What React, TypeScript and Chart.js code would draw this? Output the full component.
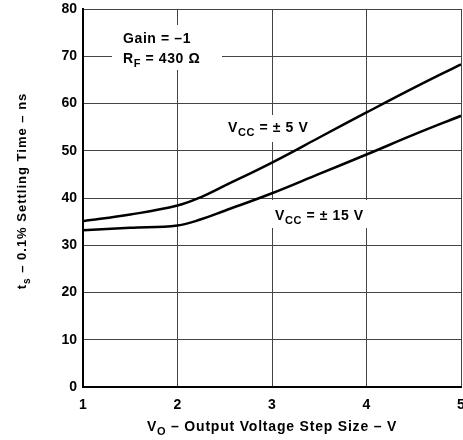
import React, { useEffect, useRef } from "react";
import { Chart, registerables } from "chart.js";

Chart.register(...registerables);

const stepSizes = [1, 1.5, 2, 2.25, 2.5, 3, 3.5, 4, 4.5, 5];
const vcc5 = [35.1, 36.5, 38.4, 40.2, 42.6, 47.5, 52.8, 58.1, 63.3, 68.3];
const vcc15 = [33.2, 33.7, 34.2, 35.5, 37.3, 41.0, 45.1, 49.2, 53.4, 57.4];
const xTicks = [1, 2, 3, 4, 5];
const yTicks = [0, 10, 20, 30, 40, 50, 60, 70, 80];

const FONT = "'Liberation Sans', Arial, Helvetica, sans-serif";

type Seg = { t: string; sub?: boolean };

function drawSegs(ctx: CanvasRenderingContext2D, segs: Seg[], x: number, y: number, size: number, align: "left" | "center", spacing: number) {
  const subSize = Math.round(size * 0.75);
  (ctx as any).letterSpacing = `${spacing}px`;
  let total = 0;
  const widths = segs.map((s) => {
    ctx.font = `bold ${s.sub ? subSize : size}px ${FONT}`;
    const w = ctx.measureText(s.t).width;
    total += w;
    return w;
  });
  let cx = align === "center" ? x - total / 2 : x;
  segs.forEach((s, i) => {
    ctx.font = `bold ${s.sub ? subSize : size}px ${FONT}`;
    ctx.fillText(s.t, cx, s.sub ? y + size * 0.28 : y);
    cx += widths[i];
  });
  (ctx as any).letterSpacing = "0px";
}

const annotations = {
  id: "annotations",
  beforeDatasetsDraw(chart: any) {
    const ctx: CanvasRenderingContext2D = chart.ctx;
    ctx.save();
    ctx.fillStyle = "#ffffff";
    ctx.fillRect(112, 25, 110, 45);
    ctx.fillRect(224, 115, 88, 27);
    ctx.fillRect(268, 200, 102, 28);
    ctx.fillStyle = "#000000";
    ctx.textBaseline = "alphabetic";
    ctx.textAlign = "left";
    drawSegs(ctx, [{ t: "Gain = \u20131" }], 123, 43, 14, "left", 0.6);
    drawSegs(ctx, [{ t: "R" }, { t: "F", sub: true }, { t: " = 430 \u03A9" }], 123, 63, 14, "left", 0.6);
    drawSegs(ctx, [{ t: "V" }, { t: "CC", sub: true }, { t: " = \u00B1 5 V" }], 228, 132, 14, "left", 0.6);
    drawSegs(ctx, [{ t: "V" }, { t: "CC", sub: true }, { t: " = \u00B1 15 V" }], 275, 220, 14, "left", 0.6);
    ctx.restore();
  },
  afterDraw(chart: any) {
    const ctx: CanvasRenderingContext2D = chart.ctx;
    ctx.save();
    ctx.fillStyle = "#000000";
    ctx.textBaseline = "alphabetic";
    drawSegs(ctx, [{ t: "V" }, { t: "O", sub: true }, { t: " \u2013 Output Voltage Step Size \u2013 V" }], 272, 431, 14, "center", 0.8);
    ctx.translate(26, 191);
    ctx.rotate(-Math.PI / 2);
    drawSegs(ctx, [{ t: "t" }, { t: "s", sub: true }, { t: " \u2013 0.1% Settling Time \u2013 ns" }], 0, 0, 13, "center", 1.0);
    ctx.restore();
  },
};

export default function App() {
  const ref = useRef<HTMLCanvasElement>(null);
  useEffect(() => {
    if (!ref.current) return;
    const chart = new Chart(ref.current, {
      type: "line",
      data: {
        datasets: [
          {
            label: "VCC = ±5 V",
            data: stepSizes.map((x, i) => ({ x, y: vcc5[i] })),
            borderColor: "#000",
            borderWidth: 2.5,
            pointRadius: 0,
            tension: 0.4,
          },
          {
            label: "VCC = ±15 V",
            data: stepSizes.map((x, i) => ({ x, y: vcc15[i] })),
            borderColor: "#000",
            borderWidth: 2.5,
            pointRadius: 0,
            tension: 0.4,
          },
        ],
      },
      options: {
        animation: false,
        responsive: false,
        devicePixelRatio: 1,
        layout: { padding: { left: 0, right: 2, top: 9, bottom: 0 } },
        plugins: { legend: { display: false }, tooltip: { enabled: false } },
        scales: {
          x: {
            type: "linear",
            min: 1,
            max: 5,
            afterFit: (s: any) => { s.height = 53; s.paddingLeft = 0; s.paddingRight = 0; },
            afterBuildTicks: (s: any) => { s.ticks = xTicks.map((v) => ({ value: v })); },
            grid: { color: "#444", lineWidth: 1, drawTicks: false },
            border: { color: "#000", width: 2 },
            ticks: { color: "#000", padding: 10, font: { family: FONT, size: 14, weight: "bold" } },
          },
          y: {
            min: 0,
            max: 80,
            afterFit: (s: any) => { s.width = 83; s.paddingTop = 0; s.paddingBottom = 0; },
            afterBuildTicks: (s: any) => { s.ticks = yTicks.map((v) => ({ value: v })); },
            grid: { color: "#444", lineWidth: 1, drawTicks: false },
            border: { color: "#000", width: 2 },
            ticks: { color: "#000", padding: 6, font: { family: FONT, size: 14, weight: "bold" } },
          },
        },
      },
      plugins: [annotations],
    } as any);
    return () => chart.destroy();
  }, []);
  return (
    <div style={{ position: "absolute", left: 0, top: 0, width: 463, height: 440, background: "#fff" }}>
      <canvas ref={ref} width={463} height={440} style={{ width: 463, height: 440 }} />
    </div>
  );
}
